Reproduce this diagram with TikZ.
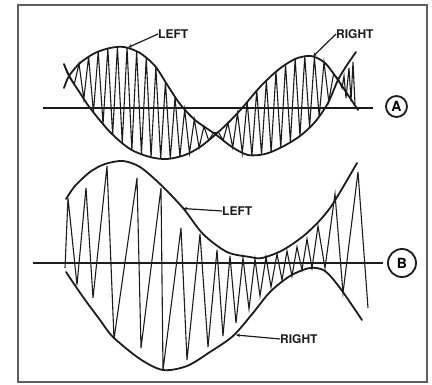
\documentclass[tikz,border=0pt]{standalone}
\usepackage{fontspec}
\setmainfont{TeX Gyre Heros}
\usetikzlibrary{arrows.meta,intersections}
\definecolor{inkdark}{HTML}{1C1C1C}
\definecolor{framegray}{HTML}{5E5E5E}
\tikzset{
  envelope/.style={draw=inkdark, line width=1.8pt, line cap=round},
  carrier/.style={draw=inkdark, line width=1.1pt},
  baseaxis/.style={draw=inkdark, line width=1.4pt},
  tag/.style={font=\bfseries\fontsize{12}{12}\selectfont, text=inkdark, anchor=west, inner sep=0pt},
  leader/.style={-{Stealth[length=4pt,width=3.5pt]}, draw=inkdark, line width=1.2pt},
  badge/.style={circle, draw=inkdark, line width=1.8pt, inner sep=0pt, font=\bfseries\fontsize{14}{14}\selectfont}
}

\begin{document}
\begin{tikzpicture}[x=1pt,y=-1pt]
  \useasboundingbox (0,0) rectangle (432,385);
  \draw[framegray, line width=1.6pt] (18,5) rectangle (427,382);

  % panel A
  \draw[baseaxis] (43,108) -- (373,108);
  \draw[envelope, name path=envAleft] plot[smooth] coordinates {(64,88) (69,76) (80,63) (95,53) (110,48) (124,47) (140,53) (155,66) (168,86) (180,104) (195,120) (215,134) (232,147) (248,155) (265,154) (282,147) (300,136) (315,122) (328,103) (338,80) (347,65) (356,52)};
  \draw[envelope, name path=envAright] plot[smooth] coordinates {(64,64) (69,76) (80,93) (90,108) (110,132) (130,149) (150,157) (167,159) (185,155) (200,147) (215,135) (230,121) (243,107) (260,87) (278,70) (295,59) (311,56) (325,63) (338,80) (348,95) (358,110)};
  \foreach \i in {0,...,57} {
    \pgfmathsetmacro\zx{64.6+4.8+4.8036*(\i-1)}
    \path[name path=vcut] (\zx,30) -- (\zx,175);
    \ifodd\i
      \path[name intersections={of=envAleft and vcut, name=hit}];
    \else
      \path[name intersections={of=envAright and vcut, name=hit}];
    \fi
    \coordinate (za\i) at (hit-1);
  }
  \draw[carrier] (za0) \foreach \i in {1,...,57} {-- (za\i)}
    -- (342,88) -- (344,76) -- (346,98) -- (349,68) -- (351,101) -- (353,62) -- (355,104);

  \coordinate (aLeftTip) at (128,47.5);
  \coordinate (aRightTip) at (313,56.5);
  \node[tag] (aLeft) at (158,34) {LEFT};
  \node[tag] (aRight) at (336,34) {RIGHT};
  \draw[leader] (aLeft.west) -- (aLeftTip);
  \draw[leader] (aRight.west) -- (aRightTip);
  \node[badge, minimum size=21pt] (markA) at (396.5,106.5) {A};

  % panel B
  \draw[baseaxis] (33,263) -- (383,263);
  \draw[envelope] plot[smooth] coordinates {(66,199) (75,186) (90,172) (105,164) (123,161) (140,167) (160,184) (183,208) (203,234) (227,252) (250,257) (262,258) (283,250) (307,233) (330,208) (357,163)};
  \draw[envelope] plot[smooth] coordinates {(66,272) (83,297) (100,320) (113,337) (140,359) (163,370) (187,366) (210,352) (233,336) (253,313) (270,292) (290,276) (310,268) (325,271) (340,288) (362,320)};
  \draw[carrier] (65,268) -- (68,198) -- (77,285) -- (86,188) -- (93,298) -- (107,166) -- (114,339)
    -- (137,178) -- (141,348) -- (161,188) -- (163,370) -- (181,228) -- (187,360) -- (200,234)
    -- (208,347) -- (217,250) -- (223,336) -- (230,256) -- (236,323) -- (243,258) -- (249,309)
    -- (255,259) -- (260,296) -- (266,257) -- (271,287) -- (277,254) -- (282,280) -- (287,251)
    -- (292,276) -- (297,247) -- (302,270) -- (307,239) -- (312,268) -- (318,226) -- (325,268)
    -- (335,194) -- (343,293) -- (358,172) -- (368,308);

  \coordinate (bLeftTip) at (183,208.5);
  \coordinate (bRightTip) at (236,335);
  \node[tag] (bLeft) at (222,211) {LEFT};
  \node[tag] (bRight) at (280,339) {RIGHT};
  \draw[leader] (bLeft.west) -- (bLeftTip);
  \draw[leader] (bRight.west) -- (bRightTip);
  \node[badge, minimum size=28pt] (markB) at (402,263) {B};
\end{tikzpicture}
\end{document}
